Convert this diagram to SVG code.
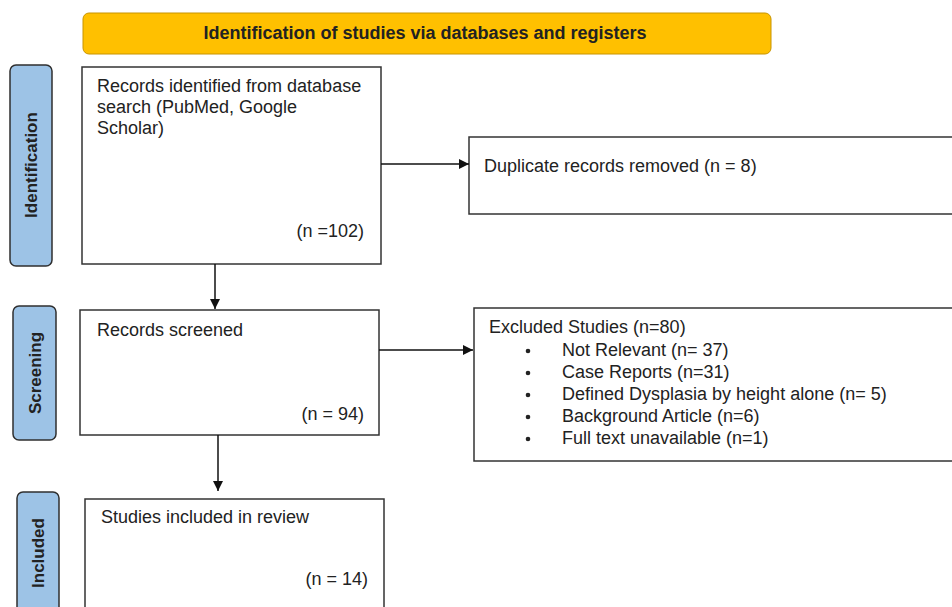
<svg xmlns="http://www.w3.org/2000/svg" width="952" height="607" viewBox="0 0 952 607">
<defs>
<style>
.box{fill:#fff;stroke:#333;stroke-width:1.5}
.side{fill:#9dc3e6;stroke:#2f2f2f;stroke-width:1.5}
.t{font-family:"Liberation Sans",Arial,sans-serif;font-size:18px;fill:#222}
.b{font-family:"Liberation Sans",Arial,sans-serif;font-weight:bold;fill:#222}
.c{stroke:#111;stroke-width:1.5;fill:none}
</style>
<marker id="ah" viewBox="0 0 10 10" refX="10" refY="5" markerWidth="10" markerHeight="10" markerUnits="userSpaceOnUse" orient="auto">
<path d="M0,0 L10,5 L0,10 z" fill="#111"/>
</marker>
</defs>
<rect width="952" height="607" fill="#fff"/>
<g id="banner">
<rect x="83" y="13" width="688" height="41" rx="6" fill="#ffc000" stroke="#c89400" stroke-width="1"/>
<text class="b" x="425" y="39" font-size="18" text-anchor="middle">Identification of studies via databases and registers</text>
</g>
<g id="lbl-identification">
<rect class="side" x="10" y="65" width="42" height="201" rx="6"/>
<text class="b" font-size="17" text-anchor="middle" transform="translate(37,165) rotate(-90)">Identification</text>
</g>
<g id="lbl-screening">
<rect class="side" x="13" y="306" width="43" height="134" rx="6"/>
<text class="b" font-size="17" text-anchor="middle" transform="translate(40.5,373) rotate(-90)">Screening</text>
</g>
<g id="lbl-included">
<rect class="side" x="17" y="492" width="42" height="130" rx="6"/>
<text class="b" font-size="17" text-anchor="middle" transform="translate(44,553) rotate(-90)">Included</text>
</g>
<g id="records-identified">
<rect class="box" x="82" y="67" width="299" height="197"/>
<text class="t" x="97" y="92">Records identified from database</text>
<text class="t" x="97" y="113">search (PubMed, Google</text>
<text class="t" x="97" y="134">Scholar)</text>
<text class="t" x="364" y="237" text-anchor="end">(n =102)</text>
</g>
<g id="duplicates">
<rect class="box" x="469" y="137" width="500" height="77"/>
<text class="t" x="484" y="172">Duplicate records removed (n = 8)</text>
</g>
<g id="records-screened">
<rect class="box" x="80" y="310" width="299" height="125"/>
<text class="t" x="97" y="336">Records screened</text>
<text class="t" x="364" y="420" text-anchor="end">(n = 94)</text>
</g>
<g id="excluded">
<rect class="box" x="474" y="308" width="500" height="153"/>
<text class="t" x="489" y="333">Excluded Studies (n=80)</text>
<g fill="#222">
<circle cx="528" cy="351" r="2.3"/>
<circle cx="528" cy="373" r="2.3"/>
<circle cx="528" cy="395" r="2.3"/>
<circle cx="528" cy="417" r="2.3"/>
<circle cx="528" cy="439" r="2.3"/>
</g>
<text class="t" x="562" y="356">Not Relevant (n= 37)</text>
<text class="t" x="562" y="378">Case Reports (n=31)</text>
<text class="t" x="562" y="400">Defined Dysplasia by height alone (n= 5)</text>
<text class="t" x="562" y="422">Background Article (n=6)</text>
<text class="t" x="562" y="444">Full text unavailable (n=1)</text>
</g>
<g id="included">
<rect class="box" x="85" y="499" width="299" height="130"/>
<text class="t" x="101" y="523">Studies included in review</text>
<text class="t" x="368" y="585" text-anchor="end">(n = 14)</text>
</g>
<g id="connectors">
<line class="c" x1="381" y1="164" x2="469" y2="164" marker-end="url(#ah)"/>
<line class="c" x1="215" y1="264" x2="215" y2="309" marker-end="url(#ah)"/>
<line class="c" x1="379" y1="350" x2="473" y2="350" marker-end="url(#ah)"/>
<line class="c" x1="218" y1="435" x2="218" y2="491" marker-end="url(#ah)"/>
</g>
</svg>
